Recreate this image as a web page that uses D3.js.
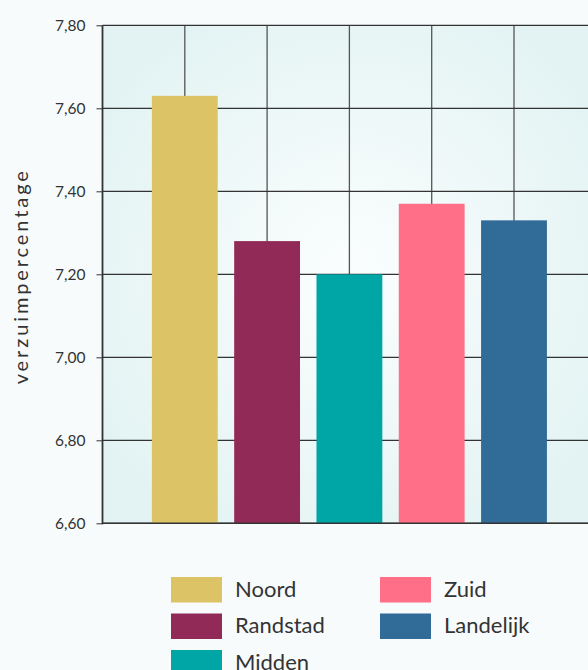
<!DOCTYPE html>
<html>
<head>
<meta charset="utf-8">
<script src="https://cdn.jsdelivr.net/npm/d3@7"></script>
<style>
  body { margin: 0; background: #f7fbfc; }
  svg { display: block; }
</style>
</head>
<body>
<div id="chart"></div>
<script>
var regions = ["Noord", "Randstad", "Midden", "Zuid", "Landelijk"];
var values = [7.63, 7.28, 7.20, 7.37, 7.33];
var colors = ["#dbc366", "#922a58", "#00a6a6", "#ff7088", "#316b97"];
var yTicks = [6.6, 6.8, 7.0, 7.2, 7.4, 7.6, 7.8];

function main(){
    var canvasWidth = 588;
    var canvasHeight = 670;
    var font = "Lato, 'DejaVu Sans', sans-serif";

    var svg = d3.select("#chart").append("svg")
        .attr("width", canvasWidth)
        .attr("height", canvasHeight);

    // plot box runs past the right edge, as in the original
    var left = 102.5, right = 596.3, top = 25.3, bottom = 523.3;

    var xScale = d3.scalePoint().domain(regions).range([left, right]).padding(1);
    var yScale = d3.scaleLinear().domain([6.6, 7.8]).range([bottom, top]);
    var barWidth = xScale.step() * 0.8;

    var defs = svg.append("defs");
    var grad = defs.append("radialGradient")
        .attr("id", "bg")
        .attr("cx", "50%").attr("cy", "50%").attr("r", "60%");
    grad.append("stop").attr("offset", "0%").attr("stop-color", "#fbfefe");
    grad.append("stop").attr("offset", "100%").attr("stop-color", "#e3f3f3");

    svg.append("rect")
        .attr("x", left).attr("y", top)
        .attr("width", right - left).attr("height", bottom - top)
        .attr("fill", "url(#bg)");

    // vertical grid through the bar centres
    svg.append("g").selectAll("line")
        .data(regions)
        .enter().append("line")
        .attr("x1", function(d){ return xScale(d); })
        .attr("x2", function(d){ return xScale(d); })
        .attr("y1", top).attr("y2", bottom)
        .attr("stroke", "#555")
        .attr("stroke-width", 1.3);

    // Y axis with horizontal grid
    var yAxis = svg.append("g")
        .attr("transform", "translate(" + left + ",0)")
        .call(d3.axisLeft(yScale)
            .tickValues(yTicks)
            .tickSize(6)
            .tickPadding(11)
            .tickFormat(function(d){ return d.toFixed(2).replace(".", ","); }));
    yAxis.select(".domain").remove();
    yAxis.selectAll(".tick line").attr("stroke", "#333");
    yAxis.selectAll(".tick text")
        .attr("font-family", font)
        .attr("font-size", "15.5px")
        .attr("fill", "#333");

    svg.append("g").selectAll("line")
        .data(yTicks)
        .enter().append("line")
        .attr("x1", left).attr("x2", right)
        .attr("y1", function(d){ return yScale(d); })
        .attr("y2", function(d){ return yScale(d); })
        .attr("stroke", "#333")
        .attr("stroke-width", 1.2);

    // Draw bars!
    svg.append("g").selectAll(".bar")
        .data(regions)
        .enter().append("rect")
        .attr("class", "bar")
        .attr("x", function(d){ return xScale(d) - barWidth / 2; })
        .attr("y", function(d, i){ return yScale(values[i]); })
        .attr("width", barWidth)
        .attr("height", function(d, i){ return bottom - yScale(values[i]); })
        .attr("fill", function(d, i){ return colors[i]; });

    // frame: left side and baseline
    svg.append("line")
        .attr("x1", left).attr("x2", left).attr("y1", top).attr("y2", bottom + 1)
        .attr("stroke", "#333").attr("stroke-width", 1.8);
    svg.append("line")
        .attr("x1", left).attr("x2", right).attr("y1", bottom).attr("y2", bottom)
        .attr("stroke", "#333").attr("stroke-width", 1.5);

    svg.append("text")
        .attr("transform", "translate(27.5," + ((top + bottom) / 2 + 2) + ") rotate(-90)")
        .attr("text-anchor", "middle")
        .attr("font-family", font)
        .attr("font-size", "20px")
        .attr("letter-spacing", "2.9px")
        .attr("fill", "#333")
        .text("verzuimpercentage");

    // legend, two columns
    var legend = svg.append("g").selectAll("g")
        .data(regions)
        .enter().append("g")
        .attr("transform", function(d, i){
            var col = i < 3 ? 0 : 1;
            var row = i < 3 ? i : i - 3;
            return "translate(" + (171 + col * 209) + "," + (577 + row * 36.5) + ")";
        });
    legend.append("rect")
        .attr("width", 51).attr("height", 25.5)
        .attr("fill", function(d, i){ return colors[i]; });
    legend.append("text")
        .attr("x", 64).attr("y", 19.5)
        .attr("font-family", font)
        .attr("font-size", "22px")
        .attr("fill", "#333")
        .text(function(d){ return d; });
}
main();
</script>
</body>
</html>
